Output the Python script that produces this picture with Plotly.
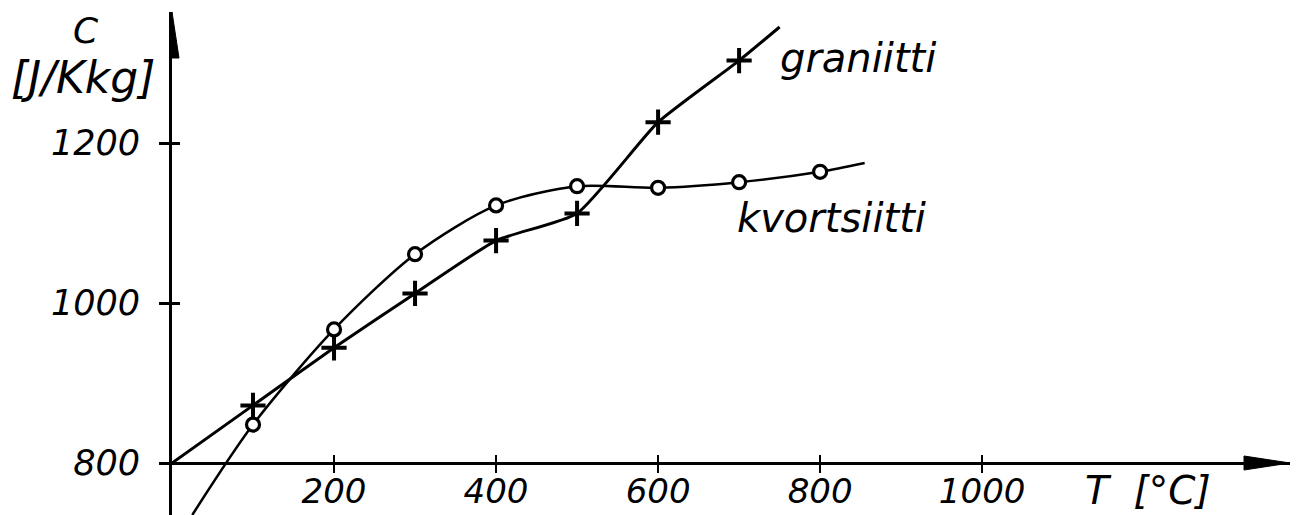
import plotly.graph_objects as go

# ---- data ----
temps_granite = [100, 200, 300, 400, 500, 600, 700]
granite = [872, 944, 1012, 1078, 1112, 1226, 1303]
# drawn curve for granite (starts at origin, extends past last point)
granite_curve_t = [0, 100, 200, 300, 400, 500, 600, 700, 750]
granite_curve_c = [800, 872, 944, 1012, 1078, 1112, 1226, 1303, 1345]

temps_quartz = [100, 200, 300, 400, 500, 600, 700, 800]
quartz = [848, 967, 1061, 1122, 1146, 1144, 1151, 1164]
quartz_curve_t = [25, 100, 200, 300, 400, 500, 600, 700, 800, 855]
quartz_curve_c = [735, 848, 967, 1061, 1122, 1146, 1144, 1151, 1164, 1175]

x_ticks = [200, 400, 600, 800, 1000]
y_ticks = [800, 1000, 1200]

# ---- geometry (page body has an 8px margin, compensated here) ----
W, H = 1290, 507
ML, MR, MT, MB = 164, 8, 4, 0
XR = [0, 1380]
YR = [735, 1363.75]
xpos = (800 - YR[0]) / (YR[1] - YR[0])

FONT = dict(family="DejaVu Sans", color="black", style="italic")

fig = go.Figure()

fig.add_trace(go.Scatter(x=granite_curve_t, y=granite_curve_c, mode="lines",
                         line=dict(color="black", width=3, shape="spline", smoothing=0.5),
                         hoverinfo="skip", showlegend=False))
fig.add_trace(go.Scatter(x=quartz_curve_t, y=quartz_curve_c, mode="lines",
                         line=dict(color="black", width=2.5, shape="spline", smoothing=0.8),
                         hoverinfo="skip", showlegend=False))
fig.add_trace(go.Scatter(x=temps_granite, y=granite, mode="markers", name="graniitti",
                         marker=dict(symbol="cross-thin", size=18, color="black",
                                     line=dict(color="black", width=4)),
                         showlegend=False))
fig.add_trace(go.Scatter(x=temps_quartz, y=quartz, mode="markers", name="kvortsiitti",
                         marker=dict(symbol="circle", size=13, color="white",
                                     line=dict(color="black", width=3.2)),
                         showlegend=False))

# overlay axes for the inward half of the crossing tick marks
fig.add_trace(go.Scatter(x=[None], y=[None], xaxis="x2", yaxis="y2", showlegend=False,
                         hoverinfo="skip"))

fig.update_layout(
    width=W, height=H,
    margin=dict(l=ML, r=MR, t=MT, b=MB, autoexpand=False),
    plot_bgcolor="white", paper_bgcolor="white",
    showlegend=False,
    xaxis=dict(range=XR, anchor="free", position=xpos, showgrid=False, zeroline=False,
               automargin=False,
               showline=True, linecolor="black", linewidth=2.8,
               tickmode="array", tickvals=x_ticks, ticktext=[str(v) for v in x_ticks],
               ticks="outside", ticklen=8, tickwidth=2, tickcolor="black",
               tickfont=dict(size=34, **FONT), ticklabelstandoff=-11),
    yaxis=dict(range=YR, showgrid=False, zeroline=False, automargin=False,
               showline=True, linecolor="black", linewidth=2.8,
               tickmode="array", tickvals=y_ticks, ticktext=[str(v) for v in y_ticks],
               ticks="outside", ticklen=10, tickwidth=2.5, tickcolor="black",
               tickfont=dict(size=35, **FONT), ticklabelstandoff=12),
    xaxis2=dict(range=XR, overlaying="x", anchor="free", position=xpos, showgrid=False,
                zeroline=False, showline=False, tickmode="array", tickvals=x_ticks,
                automargin=False,
                ticks="inside", ticklen=8, tickwidth=2, tickcolor="black",
                showticklabels=False),
    yaxis2=dict(range=YR, overlaying="y", showgrid=False, zeroline=False, showline=False,
                automargin=False,
                tickmode="array", tickvals=y_ticks[1:], ticks="inside", ticklen=8,
                tickwidth=2.5, tickcolor="black", showticklabels=False),
)

# arrowheads at the axis ends
fig.add_shape(type="path", xref="x", yref="y", xsizemode="pixel", ysizemode="pixel",
              xanchor=XR[1], yanchor=800,
              path="M 0 0 L -46 7 L -46 -7 Z", fillcolor="black", line=dict(color="black", width=1))
fig.add_shape(type="path", xref="x", yref="y", xsizemode="pixel", ysizemode="pixel",
              xanchor=0, yanchor=YR[1],
              path="M 0 0 L -7 -46 L 7 -46 Z", fillcolor="black", line=dict(color="black", width=1))

# texts
fig.add_annotation(text="C", xref="paper", yref="paper", x=-0.077, y=1.0, xanchor="center",
                   yanchor="top", yshift=4, showarrow=False, font=dict(size=36, **FONT))
fig.add_annotation(text="[J/Kkg]", xref="paper", yref="paper", x=-0.013, y=1.0,
                   xanchor="right", yanchor="top", yshift=-38, showarrow=False,
                   font=dict(size=44, **FONT))
fig.add_annotation(text="T  [°C]", xref="x", yref="y", x=1205, y=800, xanchor="center",
                   yanchor="top", yshift=-3, showarrow=False, font=dict(size=39, **FONT))
fig.add_annotation(text="graniitti", xref="x", yref="y", x=748, y=1306, xanchor="left",
                   yanchor="middle", showarrow=False, font=dict(size=40, **FONT))
fig.add_annotation(text="kvortsiitti", xref="x", yref="y", x=695, y=1140, xanchor="left",
                   yanchor="top", yshift=-2, showarrow=False, font=dict(size=40, **FONT))

fig.write_html("out.html")
